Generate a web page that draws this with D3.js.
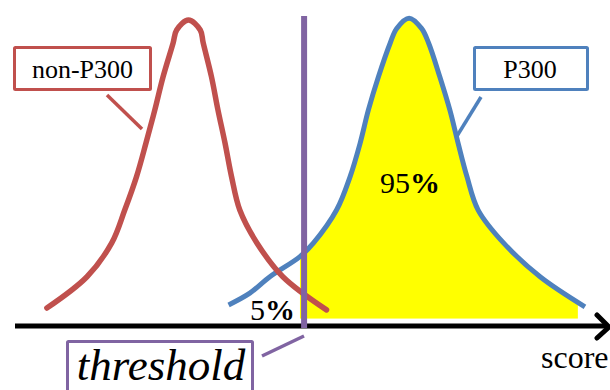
<!DOCTYPE html>
<html><head><meta charset="utf-8">
<script src="https://cdn.jsdelivr.net/npm/d3@7"></script>
<style>html,body{margin:0;padding:0;background:#fff;overflow:hidden}</style>
</head><body>
<svg id="chart" width="610" height="390"></svg>
<script>
// ---- data ----
const redScore   = [0.54,1.22,1.64,1.86,2.06,2.22,2.37,2.51,2.68,2.74,2.94,3.14,3.19,3.33,3.44,3.56,3.67,3.81,4.10,4.54,5.28];
const redDensity = [0.058,0.159,0.268,0.374,0.482,0.590,0.697,0.804,0.913,0.955,0.987,0.955,0.913,0.804,0.697,0.590,0.482,0.374,0.268,0.159,0.052];
const blueScore   = [3.62,3.98,4.32,4.83,5.06,5.45,5.68,5.85,5.99,6.16,6.36,6.47,6.68,6.89,7.01,7.20,7.37,7.51,7.66,7.85,8.28,8.90,9.66];
const blueDensity = [0.068,0.106,0.159,0.224,0.268,0.374,0.482,0.590,0.697,0.804,0.913,0.960,0.993,0.960,0.913,0.804,0.697,0.590,0.482,0.374,0.268,0.159,0.062];
const threshold = 4.90;
const fillRange = [4.83, 9.54];
const fillBase = 0.023;
const labels = { red: "non-P300", blue: "P300", threshold: "threshold", below: "5", above: "95", axis: "score" };

// ---- scales ----
const x = d3.scaleLinear().domain([0, 10]).range([15, 605]);
const y = d3.scaleLinear().domain([0, 1]).range([326, 16]);

const svg = d3.select("#chart");
const C = { red: "#c0504d", blue: "#4f81bd", purple: "#8064a2", yellow: "#ffff00" };
const SERIF = '"Liberation Serif"';

const redPts = redScore.map((s, i) => [s, redDensity[i]]);
const bluePts = blueScore.map((s, i) => [s, blueDensity[i]]);

const curve = d3.curveCatmullRom.alpha(0.5);
const line = d3.line().x(d => x(d[0])).y(d => y(d[1])).curve(curve);
const area = d3.area().x(d => x(d[0])).y0(y(fillBase)).y1(d => y(d[1])).curve(curve);

// yellow fill right of threshold
svg.append("clipPath").attr("id", "fillClip").append("rect")
  .attr("x", x(fillRange[0])).attr("y", 0)
  .attr("width", x(fillRange[1]) - x(fillRange[0])).attr("height", y(fillBase));
svg.append("path").datum(bluePts).attr("d", area)
  .attr("fill", C.yellow).attr("clip-path", "url(#fillClip)");

// axis
const axisG = svg.append("g");
axisG.append("line").attr("x1", x(0)).attr("x2", x(10) + 3).attr("y1", y(0)).attr("y2", y(0))
  .attr("stroke", "#000").attr("stroke-width", 5);
axisG.append("path")
  .attr("d", `M${x(10) - 8},${y(0) - 11} L${x(10) + 4},${y(0) + 1} L${x(10) - 8},${y(0) + 12}`)
  .attr("fill", "none").attr("stroke", "#000").attr("stroke-width", 5)
  .attr("stroke-linejoin", "round").attr("stroke-linecap", "round");

// curves
svg.append("path").datum(bluePts).attr("d", line).attr("fill", "none")
  .attr("stroke", C.blue).attr("stroke-width", 5);
svg.append("path").datum(redPts).attr("d", line).attr("fill", "none")
  .attr("stroke", C.red).attr("stroke-width", 5.5).attr("stroke-linecap", "round");

function txt(xp, yp, size) {
  return svg.append("text").attr("x", xp).attr("y", yp)
    .style("font-family", SERIF).style("font-size", size + "px").attr("fill", "#000");
}

// percentage labels
const t5 = txt(250, 320, 30);
t5.append("tspan").text(labels.below);
t5.append("tspan").style("font-weight", "bold").text("%");
const t95 = txt(380, 193, 30);
t95.append("tspan").text(labels.above);
t95.append("tspan").style("font-weight", "bold").text("%");

// threshold line
svg.append("line").attr("x1", x(threshold)).attr("x2", x(threshold))
  .attr("y1", y(1)).attr("y2", y(0) + 2)
  .attr("stroke", C.purple).attr("stroke-width", 6);

// callouts
function callout(bx, by, bw, bh, color, text, tx, ty, fs, italic, l) {
  svg.append("line").attr("x1", l[0]).attr("y1", l[1]).attr("x2", l[2]).attr("y2", l[3])
    .attr("stroke", color).attr("stroke-width", 3.5);
  svg.append("rect").attr("x", bx).attr("y", by).attr("width", bw).attr("height", bh)
    .attr("fill", "#fff").attr("stroke", color).attr("stroke-width", 3).attr("rx", 1);
  txt(tx, ty, fs).attr("text-anchor", "middle")
    .style("font-style", italic ? "italic" : "normal").text(text);
}
callout(14.5, 47.5, 136, 42, C.red, labels.red, 82.5, 78, 26, false, [107, 95, 142, 129]);
callout(474.5, 47.5, 113, 42, C.blue, labels.blue, 530, 78, 26, false, [481, 97, 457, 136]);
callout(67.5, 341.5, 185, 70, C.purple, labels.threshold, 161, 380, 45, true, [262, 356, 304, 336]);

// axis label
txt(541, 368, 32).text(labels.axis);
</script>
</body></html>
